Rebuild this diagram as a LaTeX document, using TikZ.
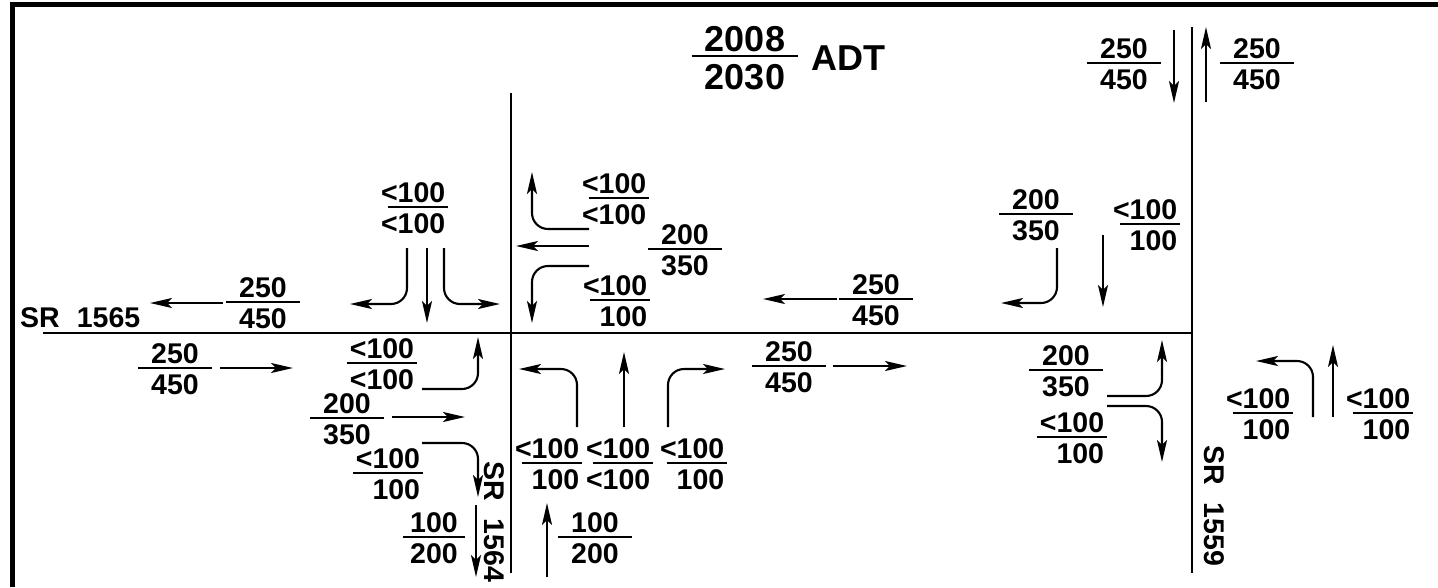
\documentclass[tikz,border=0pt]{standalone}
\usepackage{fontspec}
\setmainfont{Liberation Sans}
\usetikzlibrary{arrows.meta,positioning}

% "<" hanging left of the fraction bar
\newcommand{\lsym}{\llap{<}}
% stacked volumes: [left pad][right pad]{2008}{2030}
\NewDocumentCommand{\frc}{O{13pt} O{13pt} m m}{%
  \setlength{\arrayrulewidth}{2pt}%
  \renewcommand{\arraystretch}{0}%
  \begin{tabular}{@{\hspace{#1}}r@{\hspace{#2}}}
    \rule[-0.11em]{0pt}{0.72em}#3\\\hline
    \rule{0pt}{0.90em}#4
  \end{tabular}}

\begin{document}
\begin{tikzpicture}[
  x=1pt, y=-1pt,
  road/.style={line width=2.8pt},
  arr/.style={line width=2.1pt, -{Stealth[length=22pt,width=10pt,inset=5pt]}, rounded corners=16pt},
  vol/.style={inner sep=0pt, font=\fontsize{28.5}{30}\selectfont\bfseries},
  big/.style={inner sep=0pt, font=\fontsize{36}{40}\selectfont\bfseries}
]
  \useasboundingbox (0,0) rectangle (1438,587);
  \draw[line width=5pt] (12,587) -- (12,4) -- (1438,4);

  % title
  \node[big] (title) at (745,58) {\frc{2008}{2030}};
  \node[big, right=13pt of title] (adt) {ADT};

  % roads
  \draw[road] (43,333) -- (1192,333);
  \draw[road] (511,93) -- (511,573);
  \draw[road] (1192,27) -- (1192,573);
  \node[vol, anchor=west] (sr65) at (20,318) {SR\hspace{0.6em}1565};
  \node[vol, rotate=-90] (sr64) at (494,522) {SR\hspace{0.6em}1564};
  \node[vol, rotate=-90] (sr59) at (1214,506) {SR\hspace{0.6em}1559};

  % west intersection
  \node[vol] (nwa) at (418,208) {\frc[10pt][3pt]{\lsym100}{\lsym100}};
  \node[vol] (wwd) at (263,303) {\frc{250}{450}};
  \node[vol] (web) at (175,369) {\frc{250}{450}};
  \node[vol] (wlt) at (382,364) {\frc[3pt][3pt]{<100}{<100}};
  \node[vol] (wth) at (347,419) {\frc{200}{350}};
  \node[vol] (wrt) at (388,474) {\frc[3pt][3pt]{<100}{100}};
  \node[vol] (sdl) at (434,538) {\frc[7pt][7pt]{100}{200}};
  \node[vol] (sdr) at (595,538) {\frc{100}{200}};
  \node[vol] (nlt) at (552,464) {\frc[10pt][3pt]{\lsym100}{100}};
  \node[vol] (nth) at (623,464) {\frc[10pt][3pt]{\lsym100}{\lsym100}};
  \node[vol] (nrt) at (697,464) {\frc[10pt][3pt]{\lsym100}{100}};
  \node[vol] (ert) at (619,199) {\frc[10pt][3pt]{\lsym100}{\lsym100}};
  \node[vol] (eth) at (685,250) {\frc{200}{350}};
  \node[vol] (elt) at (620,301) {\frc[10pt][3pt]{\lsym100}{100}};
  \node[vol] (ewd) at (876,300) {\frc{250}{450}};
  \node[vol] (eed) at (789,367) {\frc{250}{450}};

  \draw[arr] (407,248) -- (407,304) -- (350,304);
  \draw[arr] (427,248) -- (427,323);
  \draw[arr] (444,248) -- (444,304) -- (500,304);
  \draw[arr] (223,303) -- (150,303);
  \draw[arr] (220,368) -- (293,368);
  \draw[arr] (422,389) -- (478,389) -- (478,337);
  \draw[arr] (392,417) -- (465,417);
  \draw[arr] (422,443) -- (478,443) -- (478,497);
  \draw[arr] (476,505) -- (476,577);
  \draw[arr] (547,577) -- (547,503);
  \draw[arr] (577,427) -- (577,369) -- (519,369);
  \draw[arr] (624,427) -- (624,352);
  \draw[arr] (668,427) -- (668,369) -- (725,369);
  \draw[arr] (833,366) -- (907,366);
  \draw[arr] (837,299) -- (763,299);
  \draw[arr] (589,229) -- (532,229) -- (532,172);
  \draw[arr] (589,246) -- (516,246);
  \draw[arr] (589,266) -- (532,266) -- (532,323);

  % east intersection
  \node[vol] (ntl) at (1124,64) {\frc{250}{450}};
  \node[vol] (ntr) at (1257,64) {\frc{250}{450}};
  \node[vol] (sbr) at (1036,215) {\frc{200}{350}};
  \node[vol] (sbt) at (1150,225) {\frc[10pt][3pt]{\lsym100}{100}};
  \node[vol] (ebl) at (1066,371) {\frc{200}{350}};
  \node[vol] (ebr) at (1072,438) {\frc[3pt][3pt]{<100}{100}};
  \node[vol] (xl) at (1263,414) {\frc[10pt][3pt]{\lsym100}{100}};
  \node[vol] (xr) at (1383,414) {\frc[10pt][3pt]{\lsym100}{100}};

  \draw[arr] (1174,30) -- (1174,103);
  \draw[arr] (1206,102) -- (1206,27);
  \draw[arr] (1057,248) -- (1057,303) -- (1001,303);
  \draw[arr] (1103,235) -- (1103,307);
  \draw[arr] (1107,396) -- (1162,396) -- (1162,340);
  \draw[arr] (1107,406) -- (1162,406) -- (1162,462);
  \draw[arr] (1313,417) -- (1313,361) -- (1256,361);
  \draw[arr] (1333,417) -- (1333,345);
\end{tikzpicture}
\end{document}
